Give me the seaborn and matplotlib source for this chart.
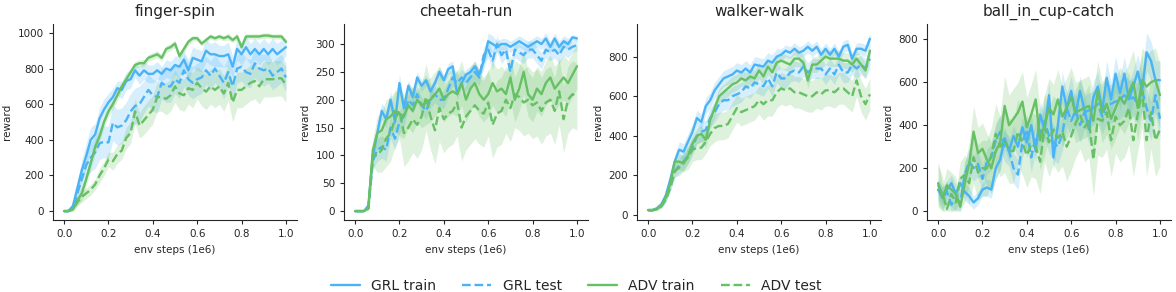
import numpy as np
import matplotlib
matplotlib.use("Agg")
import matplotlib.pyplot as plt
import seaborn as sns

sns.set_style("ticks")
plt.rcParams['font.family'] = ['DejaVu Sans']

# x axis: env steps (1e6)
steps = np.round(np.arange(0, 51) * 0.02, 2)

tasks = ["finger-spin", "cheetah-run", "walker-walk", "ball_in_cup-catch"]
series = ["GRL train", "GRL test", "ADV train", "ADV test"]

# ---- finger-spin ----
fs_grl_train = [0, 0, 30, 130, 230, 310, 400, 430, 520, 570, 610, 640, 690, 680, 730, 740, 790, 760, 790, 770,
                770, 790, 770, 800, 790, 820, 810, 850, 790, 860, 850, 840, 900, 880, 880, 870, 870, 880, 810, 910,
                880, 920, 880, 910, 880, 910, 880, 910, 880, 900, 920]
fs_grl_test = [0, 0, 20, 100, 180, 260, 300, 330, 380, 390, 385, 495, 470, 480, 510, 560, 590, 600, 640, 680,
               650, 640, 720, 700, 700, 740, 720, 790, 740, 720, 740, 750, 790, 760, 800, 760, 720, 780, 700, 800,
               810, 780, 770, 830, 800, 790, 800, 760, 780, 800, 750]
fs_adv_train = [0, 0, 10, 60, 100, 180, 270, 360, 420, 500, 560, 600, 650, 700, 740, 780, 820, 830, 830, 860,
                870, 880, 860, 910, 920, 940, 870, 910, 950, 970, 970, 940, 960, 980, 970, 980, 970, 980, 960, 980,
                920, 980, 980, 980, 980, 985, 985, 980, 980, 980, 950]
fs_adv_test = [0, 0, 10, 50, 80, 100, 120, 150, 200, 240, 290, 280, 320, 340, 410, 440, 560, 480, 510, 540,
               570, 640, 640, 630, 650, 700, 660, 650, 690, 680, 720, 690, 670, 700, 680, 700, 660, 720, 610, 680,
               680, 700, 720, 730, 700, 740, 740, 740, 745, 745, 710]
fs_grl_train_sd = [0, 0, 10, 40, 60, 70, 70, 60, 60, 60, 50, 50, 40, 50, 50, 50, 40, 50, 50, 50,
                   50, 50, 40, 50, 50, 50, 60, 50, 60, 60, 60, 60, 60, 60, 70, 60, 60, 70, 60, 60,
                   60, 60, 60, 60, 60, 60, 60, 60, 60, 60, 50]
fs_grl_test_sd = [0, 0, 10, 40, 60, 70, 80, 90, 90, 90, 90, 100, 100, 100, 100, 100, 100, 100, 90, 90,
                  90, 90, 90, 90, 90, 80, 90, 90, 90, 90, 90, 90, 80, 80, 80, 80, 90, 80, 90, 80,
                  80, 80, 80, 80, 80, 90, 80, 80, 80, 80, 80]
fs_adv_train_sd = [0, 0, 10, 30, 40, 40, 40, 40, 30, 30, 30, 30, 30, 20, 20, 20, 20, 20, 20, 20,
                   20, 20, 20, 20, 20, 20, 20, 20, 20, 15, 15, 15, 15, 15, 15, 15, 15, 20, 15, 20,
                   20, 15, 15, 15, 15, 15, 15, 15, 15, 15, 15]
fs_adv_test_sd = [0, 0, 10, 20, 30, 30, 30, 30, 40, 40, 40, 50, 50, 50, 60, 60, 70, 70, 80, 80,
                  80, 80, 80, 90, 90, 90, 90, 90, 90, 100, 90, 100, 100, 100, 100, 100, 100, 100, 110, 100,
                  100, 100, 100, 100, 100, 100, 100, 100, 100, 100, 100]

# ---- cheetah-run ----
ch_grl_train = [0, 0, 0, 10, 100, 140, 180, 165, 200, 160, 230, 185, 225, 205, 240, 225, 235, 215, 230, 250,
                235, 255, 260, 210, 230, 245, 250, 260, 245, 270, 305, 300, 295, 300, 300, 295, 300, 305, 300, 295,
                300, 305, 300, 310, 295, 310, 295, 305, 300, 312, 310]
ch_grl_test = [0, 0, 0, 5, 90, 110, 115, 110, 150, 130, 160, 170, 200, 190, 210, 190, 180, 200, 210, 200,
               200, 220, 240, 230, 240, 230, 240, 250, 240, 280, 290, 270, 300, 280, 290, 250, 290, 285, 280, 290,
               290, 280, 270, 290, 285, 290, 280, 295, 290, 295, 298]
ch_adv_train = [0, 0, 0, 5, 110, 140, 145, 165, 170, 180, 175, 170, 190, 180, 200, 190, 195, 200, 210, 220,
                200, 210, 215, 210, 230, 200, 220, 230, 210, 200, 210, 230, 215, 220, 210, 240, 200, 220, 250, 210,
                200, 220, 210, 230, 240, 220, 230, 240, 230, 245, 260]
ch_adv_test = [0, 0, 0, 5, 100, 100, 110, 130, 140, 165, 180, 140, 150, 165, 155, 170, 205, 170, 145, 185,
               165, 175, 180, 195, 150, 170, 180, 190, 180, 175, 195, 155, 175, 180, 200, 185, 210, 205, 195, 200,
               190, 195, 180, 195, 200, 180, 215, 165, 200, 210, 205]
ch_grl_train_sd = [0, 0, 0, 3, 10, 15, 15, 15, 15, 15, 15, 15, 10, 10, 10, 10, 10, 10, 10, 10,
                   10, 10, 10, 10, 10, 10, 10, 10, 10, 15, 15, 15, 10, 10, 10, 10, 10, 10, 10, 10,
                   10, 10, 10, 10, 10, 10, 10, 10, 10, 5, 5]
ch_grl_test_sd = [0, 0, 0, 3, 15, 20, 20, 20, 20, 20, 20, 20, 15, 15, 15, 15, 15, 15, 15, 15,
                  15, 15, 15, 15, 15, 15, 15, 15, 15, 15, 15, 15, 15, 15, 15, 15, 15, 15, 15, 15,
                  15, 15, 15, 15, 15, 15, 15, 15, 15, 10, 10]
ch_adv_train_sd = [0, 0, 0, 3, 20, 30, 35, 35, 35, 35, 40, 40, 40, 40, 40, 40, 40, 40, 40, 40,
                   40, 40, 40, 40, 40, 40, 40, 40, 40, 40, 40, 40, 40, 40, 40, 40, 40, 40, 40, 40,
                   40, 40, 40, 40, 40, 40, 40, 40, 40, 40, 40]
ch_adv_test_sd = [0, 0, 0, 3, 20, 30, 40, 50, 50, 50, 50, 60, 60, 60, 60, 60, 60, 60, 60, 60,
                  60, 60, 60, 60, 60, 60, 60, 60, 60, 60, 60, 60, 60, 60, 60, 60, 60, 60, 60, 60,
                  60, 60, 60, 60, 60, 60, 60, 60, 60, 60, 60]

# ---- walker-walk ----
wk_grl_train = [25, 25, 35, 55, 100, 180, 270, 330, 320, 370, 420, 490, 470, 550, 580, 630, 660, 690, 700, 710,
                730, 720, 740, 720, 760, 755, 750, 780, 770, 800, 810, 830, 820, 840, 820, 830, 850, 830, 850, 810,
                840, 810, 840, 800, 850, 860, 790, 840, 840, 830, 890]
wk_grl_test = [25, 25, 30, 45, 80, 140, 220, 250, 270, 300, 340, 400, 420, 430, 490, 520, 560, 580, 580, 600,
               610, 620, 650, 640, 670, 660, 650, 690, 650, 720, 690, 690, 720, 730, 720, 750, 720, 740, 740, 740,
               710, 740, 710, 760, 720, 720, 760, 740, 760, 740, 790]
wk_adv_train = [25, 25, 30, 50, 90, 160, 270, 270, 260, 300, 360, 400, 410, 380, 480, 540, 600, 620, 640, 660,
                670, 690, 680, 700, 690, 730, 700, 750, 720, 770, 780, 770, 760, 790, 790, 770, 680, 760, 760, 780,
                800, 790, 790, 790, 780, 780, 760, 790, 760, 730, 830]
wk_adv_test = [25, 25, 30, 45, 80, 140, 220, 240, 270, 290, 330, 340, 340, 370, 410, 440, 450, 450, 460, 500,
               540, 520, 530, 540, 550, 580, 560, 580, 580, 620, 640, 630, 640, 620, 620, 610, 600, 600, 620, 610,
               630, 630, 620, 640, 640, 620, 600, 680, 600, 560, 610]
wk_grl_train_sd = [5, 5, 5, 10, 15, 20, 30, 40, 40, 40, 40, 40, 40, 40, 40, 40, 40, 40, 40, 40,
                   40, 40, 40, 40, 40, 40, 40, 40, 40, 40, 30, 30, 30, 30, 30, 30, 30, 30, 30, 30,
                   30, 30, 30, 30, 30, 30, 30, 30, 30, 30, 30]
wk_grl_test_sd = [5, 5, 5, 10, 15, 20, 30, 40, 40, 40, 40, 40, 50, 50, 50, 50, 50, 50, 50, 50,
                  50, 50, 50, 50, 50, 50, 50, 50, 50, 50, 50, 50, 50, 50, 50, 50, 50, 50, 50, 50,
                  50, 50, 50, 50, 50, 50, 50, 50, 50, 50, 50]
wk_adv_train_sd = [5, 5, 5, 10, 15, 20, 30, 40, 40, 40, 40, 40, 40, 40, 40, 40, 40, 40, 40, 40,
                   40, 40, 40, 40, 40, 40, 40, 40, 40, 40, 40, 40, 40, 40, 40, 40, 40, 40, 40, 40,
                   40, 40, 40, 40, 40, 40, 40, 40, 40, 40, 40]
wk_adv_test_sd = [5, 5, 5, 10, 15, 20, 30, 40, 50, 60, 60, 60, 60, 60, 60, 70, 70, 70, 70, 70,
                  70, 70, 70, 70, 70, 70, 80, 80, 80, 80, 80, 80, 80, 80, 80, 80, 80, 80, 80, 80,
                  80, 80, 80, 80, 80, 80, 80, 80, 80, 80, 80]

# ---- ball_in_cup-catch ----
bc_grl_train = [100, 70, 100, 130, 80, 130, 90, 70, 40, 60, 100, 110, 100, 200, 240, 340, 280, 350, 300, 390,
                320, 400, 280, 450, 380, 540, 250, 400, 580, 480, 560, 450, 560, 470, 380, 530, 580, 470, 620, 520,
                640, 550, 640, 520, 580, 650, 560, 740, 700, 610, 610]
bc_grl_test = [100, 60, 90, 30, 60, 40, 170, 230, 200, 220, 150, 230, 250, 330, 370, 300, 280, 200, 170, 320,
               380, 250, 350, 360, 420, 350, 320, 300, 360, 480, 420, 470, 400, 460, 470, 480, 500, 440, 500, 500,
               510, 520, 540, 520, 530, 500, 560, 480, 420, 540, 430]
bc_adv_train = [130, 60, 120, 100, 80, 20, 130, 220, 370, 270, 290, 240, 200, 280, 320, 490, 400, 430, 460, 510,
                390, 450, 520, 330, 400, 480, 450, 520, 440, 480, 530, 460, 470, 480, 490, 420, 560, 460, 500, 430,
                480, 530, 500, 550, 600, 480, 610, 580, 600, 610, 540]
bc_adv_test = [120, 80, 10, 80, 40, 150, 170, 130, 250, 180, 200, 200, 260, 360, 300, 330, 280, 280, 370, 320,
               260, 310, 300, 230, 390, 320, 380, 340, 370, 300, 350, 410, 450, 390, 420, 240, 430, 420, 460, 330,
               440, 400, 420, 480, 330, 450, 560, 330, 460, 330, 380]
bc_grl_train_sd = [40, 40, 40, 40, 40, 40, 40, 40, 30, 30, 30, 40, 40, 50, 50, 50, 50, 50, 50, 50,
                   50, 50, 50, 60, 60, 60, 60, 60, 70, 70, 70, 70, 70, 70, 70, 70, 70, 70, 80, 80,
                   80, 80, 80, 80, 80, 80, 80, 90, 90, 90, 90]
bc_grl_test_sd = [50, 50, 50, 30, 50, 40, 60, 60, 60, 60, 60, 60, 60, 70, 70, 70, 70, 70, 70, 70,
                  70, 70, 70, 70, 80, 80, 80, 80, 80, 80, 80, 80, 80, 80, 80, 80, 80, 80, 90, 90,
                  90, 90, 90, 90, 90, 90, 90, 90, 90, 90, 90]
bc_adv_train_sd = [100, 60, 80, 80, 80, 20, 90, 100, 120, 120, 120, 120, 120, 130, 130, 140, 140, 140, 140, 140,
                   140, 140, 140, 140, 140, 140, 140, 140, 140, 140, 140, 140, 140, 140, 140, 140, 140, 140, 140, 140,
                   140, 140, 140, 140, 150, 150, 150, 150, 150, 150, 150]
bc_adv_test_sd = [100, 80, 10, 80, 40, 80, 90, 100, 120, 130, 130, 130, 130, 140, 140, 150, 150, 150, 150, 150,
                  150, 150, 150, 150, 160, 160, 160, 160, 160, 160, 160, 160, 160, 160, 170, 170, 170, 170, 170, 170,
                  170, 170, 170, 170, 170, 170, 170, 170, 170, 170, 170]

means = {
    "finger-spin": [fs_grl_train, fs_grl_test, fs_adv_train, fs_adv_test],
    "cheetah-run": [ch_grl_train, ch_grl_test, ch_adv_train, ch_adv_test],
    "walker-walk": [wk_grl_train, wk_grl_test, wk_adv_train, wk_adv_test],
    "ball_in_cup-catch": [bc_grl_train, bc_grl_test, bc_adv_train, bc_adv_test],
}
spreads = {
    "finger-spin": [fs_grl_train_sd, fs_grl_test_sd, fs_adv_train_sd, fs_adv_test_sd],
    "cheetah-run": [ch_grl_train_sd, ch_grl_test_sd, ch_adv_train_sd, ch_adv_test_sd],
    "walker-walk": [wk_grl_train_sd, wk_grl_test_sd, wk_adv_train_sd, wk_adv_test_sd],
    "ball_in_cup-catch": [bc_grl_train_sd, bc_grl_test_sd, bc_adv_train_sd, bc_adv_test_sd],
}

blue = "#4ab3f6"
green = "#66c064"
colors = [blue, blue, green, green]
styles = ["-", "--", "-", "--"]

fig = plt.figure(figsize=(11.76, 2.92), dpi=100)
lefts = [53, 344, 637, 927]

for i, task in enumerate(tasks):
    ax = fig.add_axes([lefts[i] / 1176, 72 / 292, 244 / 1176, 196 / 292])
    for j, name in enumerate(series):
        m = np.array(means[task][j], dtype=float)
        s = np.array(spreads[task][j], dtype=float)
        ax.fill_between(steps, m - s, m + s, color=colors[j], alpha=0.22, linewidth=0)
        sns.lineplot(x=steps, y=m, ax=ax, color=colors[j], linestyle=styles[j],
                     linewidth=1.7, label=name, legend=False)
    ax.set_title(task, fontsize=11)
    ax.set_xlabel("env steps (1e6)", fontsize=7.5)
    ax.set_ylabel("reward", fontsize=7.5)
    ax.set_xticks([0.0, 0.2, 0.4, 0.6, 0.8, 1.0])
    ax.tick_params(labelsize=7.5, length=3)
    sns.despine(ax=ax)
    if i == 0:
        handles, labels = ax.get_legend_handles_labels()

fig.legend(handles, labels, loc="lower center", bbox_to_anchor=(0.49, -0.045), ncol=4,
           frameon=False, fontsize=10, handlelength=2.1, columnspacing=1.9)

fig.savefig("out.png", dpi=100)
